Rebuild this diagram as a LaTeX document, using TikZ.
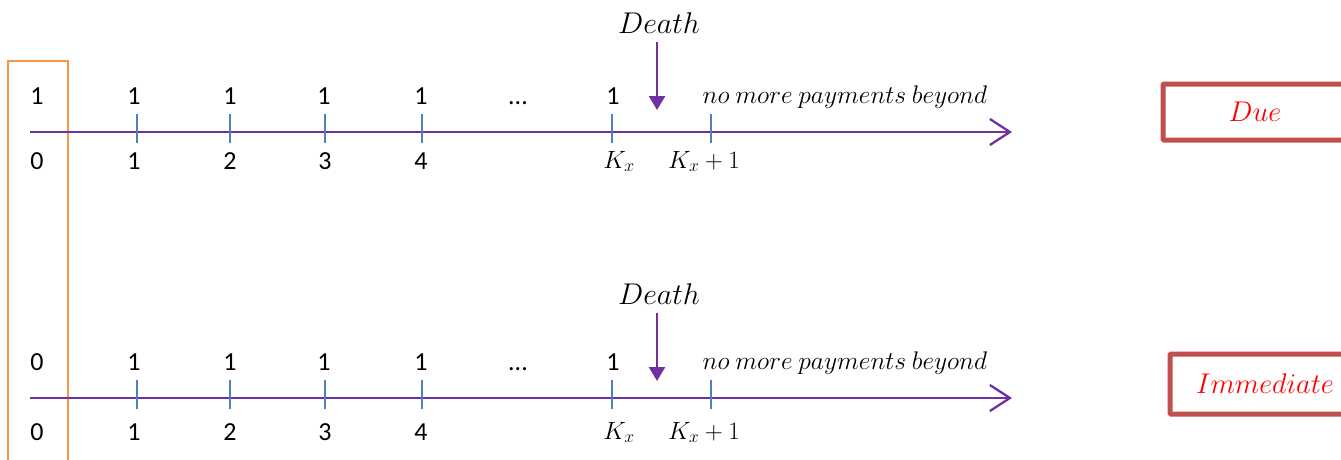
\RequirePackage{fix-cm}
\documentclass[tikz,border=0pt]{standalone}
\usepackage{fontspec}
\setmainfont{Carlito}
\usetikzlibrary{arrows.meta}
\definecolor{axpurple}{HTML}{7030A0}
\definecolor{tickblue}{HTML}{4F81BD}
\definecolor{boxorange}{HTML}{F79646}
\definecolor{boxred}{HTML}{C0504D}
\tikzset{
  axis/.style={draw=axpurple, line width=2.3pt, -{Straight Barb[length=20pt,width=26pt,line width=2.3pt]}},
  tick/.style={draw=tickblue, line width=2pt},
  death/.style={draw=axpurple, line width=2.5pt, -{Triangle[length=14pt,width=16pt]}},
  num/.style={font=\fontsize{26}{30}\selectfont, inner sep=0pt, anchor=base},
  mlab/.style={font=\fontsize{25.5}{30}\selectfont, inner sep=0pt, anchor=base},
  klab/.style={font=\fontsize{25}{30}\selectfont, inner sep=0pt, anchor=base},
  dlab/.style={font=\fontsize{30}{36}\selectfont, inner sep=0pt, anchor=base},
  tag/.style={draw=boxred, line width=5pt, rounded corners=1pt, text=red, font=\fontsize{28.5}{34}\selectfont, inner sep=0pt},
}
\begin{document}
\begin{tikzpicture}[x=1pt,y=-1pt]
\useasboundingbox (0,0) rectangle (1341,460);
\clip (0,0) rectangle (1341,460);
% orange box
\coordinate (ob1) at (8,461);
\coordinate (ob2) at (8,61);
\coordinate (ob3) at (68,61);
\coordinate (ob4) at (68,461);
\draw[boxorange, line width=2pt] (ob1) -- (ob2) -- (ob3) -- (ob4);

\foreach \row/\ay/\ty/\by/\dy/\dtop/\dbot/\first in {top/132/104/169/34/42/110/1, bot/398/370/440/304/313/381/0}{
  \coordinate (\row-s) at (30,\ay);
  \coordinate (\row-e) at (1012,\ay);
  \draw[axis] (\row-s) -- (\row-e);
  \foreach \x/\n in {137/t1,230/t2,325/t3,422/t4,612/tk,711/tk1}{
    \coordinate (\row-\n-a) at (\x,\ay-18);
    \coordinate (\row-\n-b) at (\x,\ay+11);
    \draw[tick] (\row-\n-a) -- (\row-\n-b);
  }
  % payments
  \node[num] (\row-p0) at (37,\ty) {\first};
  \node[num] (\row-p1) at (134,\ty) {1};
  \node[num] (\row-p2) at (230,\ty) {1};
  \node[num] (\row-p3) at (324,\ty) {1};
  \node[num] (\row-p4) at (421,\ty) {1};
  \node[num] (\row-pd) at (518,\ty) {...};
  \node[num] (\row-pk) at (613,\ty) {1};
  \node[mlab] (\row-nm) at (845,\ty-1) {$no\ more\ payments\ beyond$};
  % times
  \node[num] (\row-z0) at (37,\by) {0};
  \node[num] (\row-z1) at (134,\by) {1};
  \node[num] (\row-z2) at (230,\by) {2};
  \node[num] (\row-z3) at (325,\by) {3};
  \node[num] (\row-z4) at (421,\by) {4};
  \node[klab] (\row-zk) at (619,\by-1) {$K_x$};
  \node[klab] (\row-zk1) at (704,\by-1) {$K_x+1$};
  % death
  \node[dlab] (\row-death) at (659,\dy) {$Death$};
  \coordinate (\row-da) at (657,\dtop);
  \coordinate (\row-db) at (657,\dbot);
  \draw[death] (\row-da) -- (\row-db);
}
\node[tag, minimum width=184pt, minimum height=56pt] (due) at (1255,112) {$Due$};
\node[tag, minimum width=190pt, minimum height=60pt] (imm) at (1265,384) {$Immediate$};
\end{tikzpicture}
\end{document}
